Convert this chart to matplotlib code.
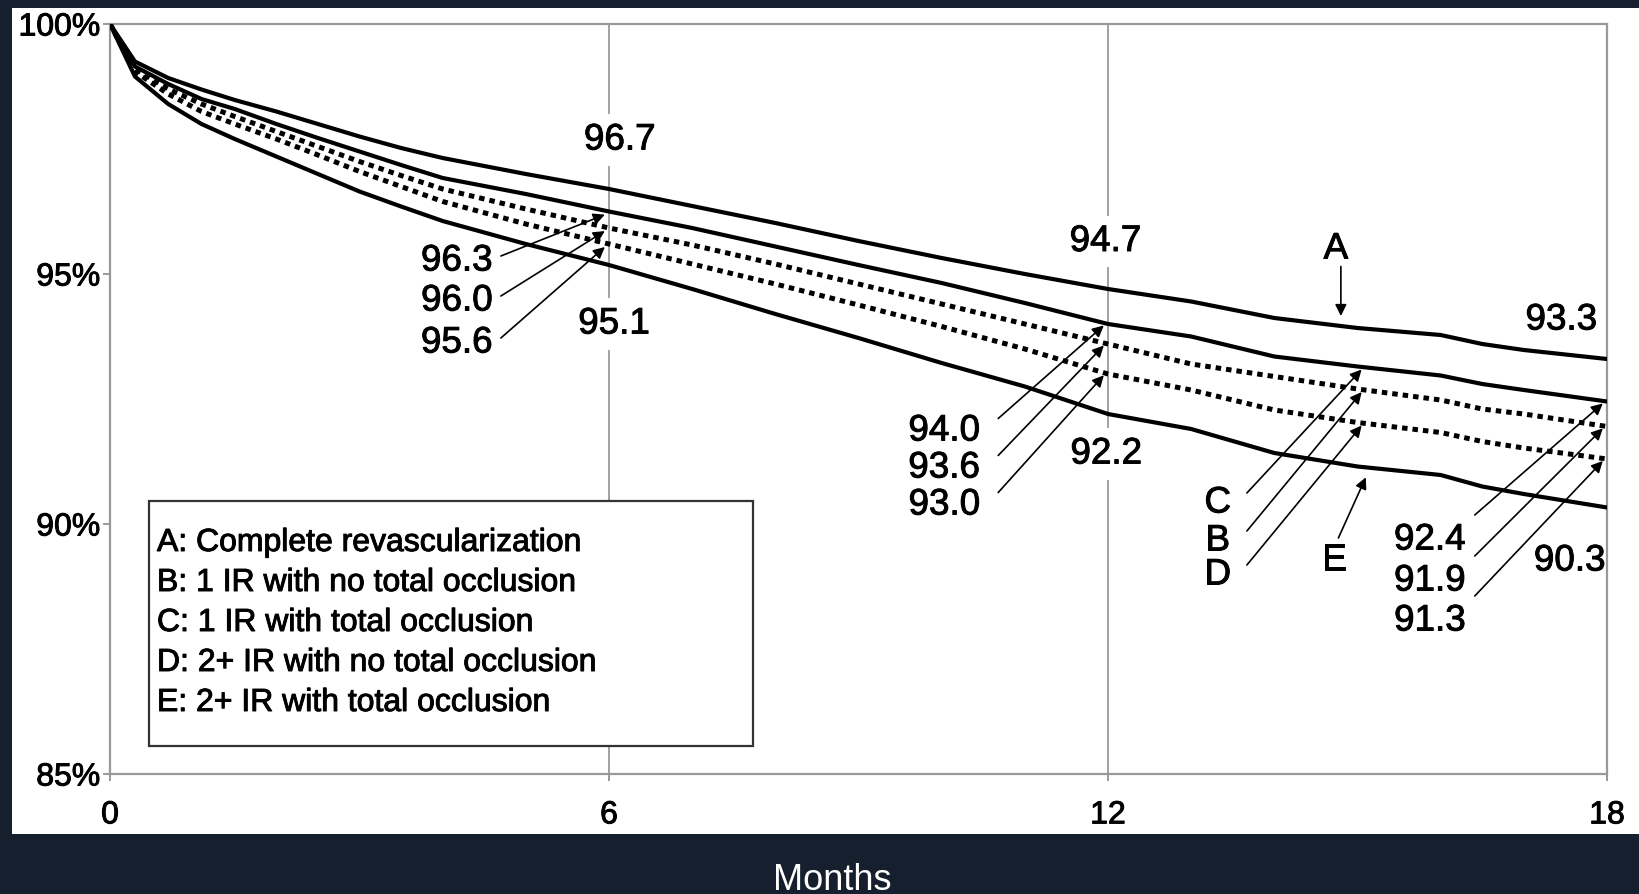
import numpy as np
import matplotlib.pyplot as plt
import matplotlib.patheffects as pe
from matplotlib.patches import Rectangle
plt.switch_backend('Agg')

plt.rcParams['font.family'] = ['Liberation Sans', 'DejaVu Sans']

months = [0, 0.3, 0.7, 1.1, 1.5, 2, 2.5, 3, 3.5, 4, 5, 6,
          7, 8, 9, 10, 11, 12, 13, 14, 15, 16, 16.5, 17, 18]

surv_a = [100, 99.25, 98.92, 98.69, 98.48, 98.25, 98.0, 97.75, 97.52, 97.32, 97.0, 96.7,
          96.36, 96.02, 95.66, 95.32, 95.0, 94.7, 94.45, 94.12, 93.92, 93.78, 93.6, 93.48, 93.3]
surv_c = [100, 99.15, 98.8, 98.5, 98.3, 98.0, 97.72, 97.45, 97.18, 96.92, 96.6, 96.25,
          95.92, 95.55, 95.18, 94.82, 94.42, 94.0, 93.75, 93.35, 93.15, 92.97, 92.8, 92.68, 92.45]
surv_b = [100, 99.1, 98.7, 98.4, 98.15, 97.85, 97.55, 97.25, 96.97, 96.7, 96.3, 95.92,
          95.58, 95.2, 94.8, 94.4, 94.0, 93.6, 93.2, 92.95, 92.7, 92.48, 92.3, 92.2, 91.95]
surv_d = [100, 99.05, 98.6, 98.25, 98.0, 97.7, 97.38, 97.05, 96.75, 96.45, 96.0, 95.6,
          95.2, 94.8, 94.38, 93.95, 93.5, 93.0, 92.68, 92.28, 92.03, 91.83, 91.65, 91.52, 91.3]
surv_e = [100, 98.95, 98.4, 98.0, 97.7, 97.35, 97.0, 96.65, 96.35, 96.06, 95.6, 95.18,
          94.7, 94.2, 93.72, 93.22, 92.75, 92.2, 91.9, 91.42, 91.15, 90.98, 90.75, 90.6, 90.33]

legend_labels = ['A: Complete revascularization',
                 'B: 1 IR with no total occlusion',
                 'C: 1 IR with total occlusion',
                 'D: 2+ IR with no total occlusion',
                 'E: 2+ IR with total occlusion']

# printed values at 6, 12 and 18 months
top_labels = ['96.7', '94.7', '93.3']
bottom_labels = ['95.1', '92.2', '90.3']
mid6_labels = ['96.3', '96.0', '95.6']
mid12_labels = ['94.0', '93.6', '93.0']
mid18_labels = ['92.4', '91.9', '91.3']
letters_cbd = ['C', 'B', 'D']

x_ticks = [0, 6, 12, 18]
y_ticks = [85, 90, 95, 100]

bg = '#161f2d'
fs = 23     # legend / ticks
fa = 26.5   # annotations
heavy = [pe.withStroke(linewidth=0.7, foreground='black')]

fig = plt.figure(figsize=(16.39, 8.95), dpi=100, facecolor=bg)
panel = fig.add_axes([12 / 1639, 60 / 895, 1627 / 1639, 826 / 895], zorder=-1)
panel.set_axis_off()
panel.add_patch(Rectangle((0, 0), 1, 1, transform=panel.transAxes,
                          facecolor='white', edgecolor='none'))

ax = fig.add_axes([110 / 1639, 1 - 775 / 895, 1497 / 1639, 750 / 895])
ax.set_facecolor('white')

solid = dict(color='black', lw=3.0, solid_joinstyle='round')
dotted = dict(color='black', lw=3.6, linestyle=(0, (1.1, 1.0)), dash_capstyle='butt')
ax.plot(months, surv_a, **solid, zorder=3)
ax.plot(months, surv_c, **solid, zorder=3)
ax.plot(months, surv_b, **dotted, zorder=3)
ax.plot(months, surv_d, **dotted, zorder=3)
ax.plot(months, surv_e, **solid, zorder=3)

ax.set_xlim(0, 18)
ax.set_ylim(85, 100)
ax.set_xticks(x_ticks)
ax.set_xticklabels([str(t) for t in x_ticks])
ax.set_yticks(y_ticks)
ax.set_yticklabels([f'{t}%' for t in y_ticks])
ax.tick_params(axis='both', colors='#888888', labelcolor='black', labelsize=fs,
               length=5, width=1.2, direction='out')
ax.tick_params(axis='x', pad=14)
ax.tick_params(axis='y', pad=2)
for lab in ax.get_xticklabels() + ax.get_yticklabels():
    lab.set_path_effects(heavy)
for sp in ax.spines.values():
    sp.set_color('#999999')
    sp.set_linewidth(1.6)
for gx in [6, 12]:
    ax.axvline(gx, color='#888888', lw=1.1, zorder=1)

white_box = dict(facecolor='white', edgecolor='none', pad=6)
arrow = dict(arrowstyle='-|>', color='black', lw=1.2, mutation_scale=17,
             shrinkA=0, shrinkB=0)


def label(x, y, s, ha='center', box=None, z=4):
    ax.text(x, y, s, fontsize=fa, ha=ha, va='center', bbox=box, zorder=z,
            path_effects=heavy)


# values written above and below the curves
label(6.13, 97.68, top_labels[0], box=white_box, z=2)
label(11.97, 95.65, top_labels[1], box=white_box, z=2)
label(17.45, 94.08, top_labels[2])
label(6.06, 94.0, bottom_labels[0], box=white_box, z=2)
label(11.98, 91.4, bottom_labels[1], box=white_box, z=2)
label(17.55, 89.26, bottom_labels[2])

mids = [surv_c, surv_b, surv_d]

# 6 month arrows
for i, lab in enumerate(mid6_labels):
    yt = [95.26, 94.46, 93.62][i]
    label(4.6, yt, lab, ha='right')
    ax.annotate('', xy=(5.95, np.interp(5.95, months, mids[i]) - 0.08),
                xytext=(4.7, yt + 0.1), arrowprops=arrow, zorder=4)

# 12 month arrows
for i, lab in enumerate(mid12_labels):
    yt = [91.86, 91.12, 90.38][i]
    label(10.46, yt, lab, ha='right')
    ax.annotate('', xy=(11.95, np.interp(11.95, months, mids[i]) - 0.05),
                xytext=(10.68, yt + 0.25), arrowprops=arrow, zorder=4)

# letters C, B, D pointing at 15 months
for i, lab in enumerate(letters_cbd):
    yt = [90.42, 89.66, 88.98][i]
    label(13.32, yt, lab)
    ax.annotate('', xy=(15.05, np.interp(15.05, months, mids[i]) - 0.05),
                xytext=(13.67, yt + 0.2), arrowprops=arrow, zorder=4)

# 18 month arrows
for i, lab in enumerate(mid18_labels):
    yt = [89.68, 88.86, 88.06][i]
    label(15.87, yt, lab)
    ax.annotate('', xy=(17.95, np.interp(17.95, months, mids[i]) - 0.05),
                xytext=(16.41, yt + 0.5), arrowprops=arrow, zorder=4)

# A and E markers
label(14.74, 95.5, 'A')
ax.annotate('', xy=(14.8, np.interp(14.8, months, surv_a) + 0.2), xytext=(14.8, 95.15),
            arrowprops=arrow, zorder=4)
label(14.72, 89.28, 'E')
ax.annotate('', xy=(15.1, np.interp(15.1, months, surv_e) - 0.2), xytext=(14.77, 89.72),
            arrowprops=arrow, zorder=4)

# legend box
ax.add_patch(Rectangle((0.47, 85.56), 7.26, 4.9, facecolor='white', edgecolor='#333333',
                       lw=1.6, zorder=5))
for i, lab in enumerate(legend_labels):
    ax.text(0.565, 89.62 - 0.8 * i, lab, fontsize=fs, ha='left', va='center', zorder=6,
            path_effects=heavy)

fig.text(832 / 1639, 5 / 895, 'Months', color='white', fontsize=26, ha='center', va='baseline')

plt.savefig('out.png', dpi=100, facecolor=bg)
